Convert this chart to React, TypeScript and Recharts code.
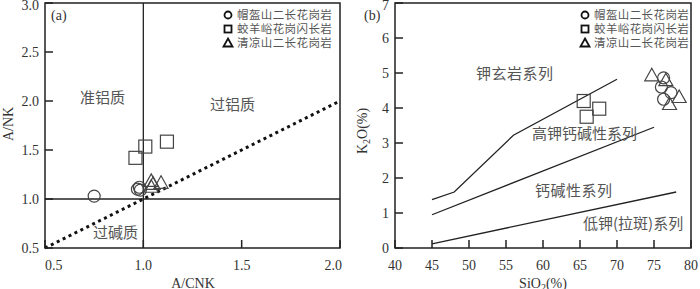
import { ScatterChart, Scatter, XAxis, YAxis, ReferenceLine, ReferenceArea } from "recharts";

// ---- panel (a): A/CNK vs A/NK ----
const aTicksX = [0.5, 1.0, 1.5, 2.0];
const aTicksY = [0.5, 1.0, 1.5, 2.0, 2.5, 3.0];
const aCircles = [
  { x: 0.75, y: 1.03 },
  { x: 0.97, y: 1.1 },
  { x: 0.98, y: 1.12 },
  { x: 0.985, y: 1.09 },
];
const aSquares = [
  { x: 0.96, y: 1.42 },
  { x: 1.01, y: 1.535 },
  { x: 1.12, y: 1.585 },
];
const aTriangles = [
  { x: 1.04, y: 1.18 },
  { x: 1.05, y: 1.15 },
  { x: 1.04, y: 1.12 },
  { x: 1.09, y: 1.16 },
];
const aDivider = [
  { x: 0.5, y: 0.5 },
  { x: 2.0, y: 2.0 },
];

// ---- panel (b): SiO2 vs K2O ----
const bTicksX = [40, 45, 50, 55, 60, 65, 70, 75, 80];
const bTicksY = [0, 1, 2, 3, 4, 5, 6, 7];
const bCircles = [
  { x: 76.3, y: 4.86 },
  { x: 76.0, y: 4.6 },
  { x: 77.3, y: 4.44 },
  { x: 76.3, y: 4.25 },
];
const bSquares = [
  { x: 65.5, y: 4.2 },
  { x: 65.9, y: 3.75 },
  { x: 67.6, y: 3.98 },
];
const bTriangles = [
  { x: 74.7, y: 4.92 },
  { x: 76.6, y: 4.78 },
  { x: 78.4, y: 4.3 },
  { x: 77.1, y: 4.1 },
];
const bShoshonite = [
  { x: 45, y: 1.38 },
  { x: 48, y: 1.6 },
  { x: 56, y: 3.22 },
  { x: 70, y: 4.82 },
];
const bHighK = [
  { x: 45, y: 0.95 },
  { x: 75, y: 3.45 },
];
const bLowK = [
  { x: 45, y: 0.12 },
  { x: 78, y: 1.6 },
];

const series = ["帽盔山二长花岗岩", "蛟羊峪花岗闪长岩", "清凉山二长花岗岩"];

const INK = "#222";
const TEXT = "#333";
const LABEL = "#555";
const SERIF = "'Liberation Serif', 'DejaVu Serif', serif";
const CJK = "'Noto Sans CJK SC', sans-serif";

const circleShape = (p: any) => (
  <circle cx={p.cx} cy={p.cy} r={6} fill="none" stroke="#444" strokeWidth={1.2} />
);
const squareShape = (p: any) => (
  <rect x={p.cx - 6.5} y={p.cy - 6.5} width={13} height={13} fill="none" stroke="#444" strokeWidth={1.2} />
);
const triangleShape = (p: any) => (
  <path
    d={`M${p.cx},${p.cy - 7.5} L${p.cx + 7},${p.cy + 5} L${p.cx - 7},${p.cy + 5} Z`}
    fill="none"
    stroke="#444"
    strokeWidth={1.2}
  />
);
const noShape = () => <g />;

function XTick({ x, y, payload, digits, first, last }: any) {
  const v = payload.value;
  let anchor: any = "middle";
  let tx = x;
  if (first !== undefined && v === first) { anchor = "start"; tx = x; }
  if (last !== undefined && v === last) { anchor = "end"; tx = x + 2; }
  return (
    <g>
      <line x1={x} x2={x} y1={y} y2={y - 8} stroke={INK} strokeWidth={1.5} />
      <text x={tx} y={y + 22} textAnchor={anchor} fill={TEXT} fontSize={14} fontFamily={SERIF}>
        {v.toFixed(digits)}
      </text>
    </g>
  );
}

function YTick({ x, y, payload, digits, top }: any) {
  const nudge = payload.value === top ? 2.5 : 0;
  return (
    <g>
      <line x1={x} x2={x + 8} y1={y} y2={y} stroke={INK} strokeWidth={1.5} />
      <text x={x - 6} y={y + 4.5 + nudge} textAnchor="end" fill={TEXT} fontSize={14} fontFamily={SERIF}>
        {payload.value.toFixed(digits)}
      </text>
    </g>
  );
}

function Legend({ x }: { x: number }) {
  const rows = [15, 29, 43];
  return (
    <g>
      <circle cx={x} cy={rows[0]} r={3.5} fill="none" stroke="#111" strokeWidth={1.8} />
      <rect x={x - 3.5} y={rows[1] - 3.5} width={7} height={7} fill="none" stroke="#111" strokeWidth={1.8} />
      <path d={`M${x},${rows[2] - 4.5} L${x + 4.5},${rows[2] + 3.5} L${x - 4.5},${rows[2] + 3.5} Z`} fill="none" stroke="#111" strokeWidth={1.8} />
      {series.map((s, i) => (
        <text key={s} x={x + 9} y={rows[i] + 4} fontSize={11.5} letterSpacing={0.4} fill={LABEL} fontFamily={CJK}>
          {s}
        </text>
      ))}
    </g>
  );
}

const margin = { top: 3, right: 10, bottom: 11, left: 0 };

export default function App() {
  return (
    <div style={{ position: "absolute", left: 0, top: 0, width: 700, height: 289, background: "#fff", overflow: "hidden" }}>
      <div style={{ position: "absolute", left: 0, top: 0 }}>
        <ScatterChart width={350} height={289} margin={margin}>
          <XAxis
            type="number"
            dataKey="x"
            domain={[0.5, 2.0]}
            ticks={aTicksX}
            interval={0}
            height={30}
            axisLine={false}
            tickLine={false}
            tickSize={0}
            tickMargin={0}
            tick={<XTick digits={1} first={0.5} last={2.0} />}
            allowDataOverflow
          />
          <YAxis
            type="number"
            dataKey="y"
            domain={[0.5, 3.0]}
            ticks={aTicksY}
            interval={0}
            width={45}
            axisLine={false}
            tickLine={false}
            tickSize={0}
            tickMargin={0}
            tick={<YTick digits={1} top={3.0} />}
            allowDataOverflow
          />
          <ReferenceArea x1={0.5} x2={2.0} y1={0.5} y2={3.0} fill="none" stroke={INK} strokeWidth={1.5} ifOverflow="visible" />
          <ReferenceLine x={1.0} stroke={INK} strokeWidth={1.3} />
          <ReferenceLine y={1.0} stroke={INK} strokeWidth={1.3} />
          <ReferenceLine segment={aDivider} stroke="#111" strokeWidth={3} strokeDasharray="3 3.6" />
          <Scatter data={aCircles} shape={circleShape} isAnimationActive={false} />
          <Scatter data={aSquares} shape={squareShape} isAnimationActive={false} />
          <Scatter data={aTriangles} shape={triangleShape} isAnimationActive={false} />
        </ScatterChart>
      </div>
      <div style={{ position: "absolute", left: 350, top: 0 }}>
        <ScatterChart width={350} height={289} margin={{ ...margin, right: 9 }}>
          <XAxis
            type="number"
            dataKey="x"
            domain={[40, 80]}
            ticks={bTicksX}
            interval={0}
            height={30}
            axisLine={false}
            tickLine={false}
            tickSize={0}
            tickMargin={0}
            tick={<XTick digits={0} />}
            allowDataOverflow
          />
          <YAxis
            type="number"
            dataKey="y"
            domain={[0, 7]}
            ticks={bTicksY}
            interval={0}
            width={45}
            axisLine={false}
            tickLine={false}
            tickSize={0}
            tickMargin={0}
            tick={<YTick digits={0} top={7} />}
            allowDataOverflow
          />
          <ReferenceArea x1={40} x2={80} y1={0} y2={7} fill="none" stroke={INK} strokeWidth={1.5} ifOverflow="visible" />
          <Scatter data={bShoshonite} line={{ stroke: INK, strokeWidth: 1.3 }} shape={noShape} isAnimationActive={false} />
          <Scatter data={bHighK} line={{ stroke: INK, strokeWidth: 1.3 }} shape={noShape} isAnimationActive={false} />
          <Scatter data={bLowK} line={{ stroke: INK, strokeWidth: 1.3 }} shape={noShape} isAnimationActive={false} />
          <Scatter data={bCircles} shape={circleShape} isAnimationActive={false} />
          <Scatter data={bSquares} shape={squareShape} isAnimationActive={false} />
          <Scatter data={bTriangles} shape={triangleShape} isAnimationActive={false} />
        </ScatterChart>
      </div>
      <svg width={700} height={289} style={{ position: "absolute", left: 0, top: 0, pointerEvents: "none" }}>
        {/* panel a labels */}
        <text x={51} y={20} fontSize={14} fill={TEXT} fontFamily={SERIF}>(a)</text>
        <Legend x={228} />
        <text x={80} y={103} fontSize={15} fill={LABEL} fontFamily={CJK}>准铝质</text>
        <text x={210} y={110} fontSize={15} fill={LABEL} fontFamily={CJK}>过铝质</text>
        <text x={93} y={238} fontSize={15} fill={LABEL} fontFamily={CJK}>过碱质</text>
        <text x={193} y={288} textAnchor="middle" fontSize={14} fill={TEXT} fontFamily={SERIF}>A/CNK</text>
        <text transform="translate(13,124) rotate(-90)" textAnchor="middle" fontSize={14} fill={TEXT} fontFamily={SERIF}>A/NK</text>
        {/* panel b labels */}
        <text x={364} y={20} fontSize={14} fill={TEXT} fontFamily={SERIF}>(b)</text>
        <Legend x={585} />
        <text x={476} y={79} fontSize={15} fill={LABEL} fontFamily={CJK} letterSpacing={0.5}>钾玄岩系列</text>
        <text x={532} y={139} fontSize={15} fill={LABEL} fontFamily={CJK}>高钾钙碱性系列</text>
        <text x={535} y={196} fontSize={15} fill={LABEL} fontFamily={CJK} letterSpacing={0.5}>钙碱性系列</text>
        <text x={583} y={229} fontSize={15} fill={LABEL} fontFamily={CJK}>低钾(拉斑)系列</text>
        <text x={543} y={288} textAnchor="middle" fontSize={14} fill={TEXT} fontFamily={SERIF}>
          SiO<tspan fontSize={10} dy={3}>2</tspan><tspan dy={-3}>(%)</tspan>
        </text>
        <text transform="translate(367,131) rotate(-90)" textAnchor="middle" fontSize={14} fill={TEXT} fontFamily={SERIF}>
          K<tspan fontSize={10} dy={3}>2</tspan><tspan dy={-3}>O(%)</tspan>
        </text>
      </svg>
    </div>
  );
}
